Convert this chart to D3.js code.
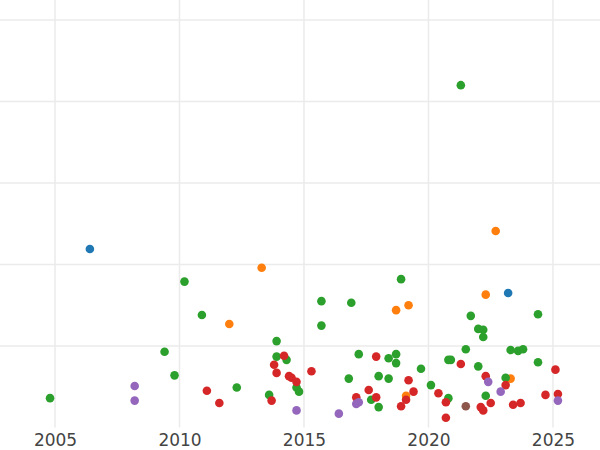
<!DOCTYPE html>
<html><head><meta charset="utf-8">
<script src="https://cdn.jsdelivr.net/npm/d3@7"></script>
<style>body{margin:0;background:#fff}</style>
</head><body>
<svg id="c" width="600" height="450"></svg>
<script>
// [year, value] per group
var blue = [[2006.4,2.19],[2023.2,1.65]];
var orange = [[2013.3,1.96],[2012.0,1.27],[2022.7,2.41],[2022.3,1.63],[2019.2,1.50],[2018.7,1.44],[2019.1,0.39],[2023.3,0.60]];
var green = [[2004.8,0.36],[2010.2,1.79],[2010.9,1.38],[2009.4,0.93],[2009.8,0.64],[2012.3,0.49],[2013.6,0.40],[2013.9,1.06],[2013.9,0.87],[2014.3,0.83],[2014.7,0.49],[2014.8,0.44],[2015.7,1.55],[2015.7,1.25],[2016.9,1.53],[2017.2,0.90],[2016.8,0.60],[2018.0,0.63],[2018.4,0.60],[2018.4,0.85],[2018.7,0.90],[2018.7,0.79],[2018.9,1.82],[2017.7,0.34],[2018.0,0.25],[2019.7,0.72],[2020.1,0.52],[2020.8,0.83],[2020.9,0.83],[2020.8,0.36],[2021.3,4.20],[2021.5,0.96],[2021.7,1.37],[2022.0,1.21],[2022.2,1.20],[2022.2,1.11],[2022.0,0.75],[2022.3,0.39],[2023.1,0.61],[2023.3,0.95],[2023.6,0.94],[2023.8,0.96],[2024.4,1.39],[2024.4,0.80]];
var red = [[2011.1,0.45],[2011.6,0.30],[2013.7,0.33],[2013.8,0.77],[2013.9,0.67],[2014.2,0.88],[2014.4,0.63],[2014.5,0.61],[2014.7,0.56],[2015.3,0.69],[2017.1,0.37],[2017.6,0.46],[2017.9,0.87],[2017.9,0.37],[2018.9,0.26],[2019.1,0.34],[2019.2,0.58],[2019.4,0.44],[2020.4,0.42],[2020.7,0.31],[2020.7,0.12],[2021.3,0.78],[2022.1,0.25],[2022.2,0.21],[2022.3,0.63],[2022.5,0.30],[2023.1,0.52],[2023.4,0.28],[2023.7,0.30],[2024.7,0.40],[2025.1,0.71],[2025.2,0.41]];
var purple = [[2008.2,0.51],[2008.2,0.33],[2014.7,0.21],[2016.4,0.17],[2017.1,0.29],[2017.2,0.31],[2022.4,0.56],[2022.9,0.44],[2025.2,0.33]];
var brown = [[2021.5,0.26]];
var xTicks = [2005, 2010, 2015, 2020, 2025];
var yGrid = [1, 2, 3, 4, 5];

var svg = d3.select("#c");
var x = d3.scaleLinear().domain([2002.79, 2026.89]).range([0, 600]);
var y = d3.scaleLinear().domain([0, 5.245]).range([427.5, 0]);

svg.append("g").selectAll("line").data(yGrid).join("line")
  .attr("x1", 0).attr("x2", 600).attr("y1", y).attr("y2", y)
  .attr("stroke", "#ebebeb").attr("stroke-width", 1.5);
svg.append("g").selectAll("line").data(xTicks).join("line")
  .attr("x1", x).attr("x2", x).attr("y1", 0).attr("y2", 427.5)
  .attr("stroke", "#ebebeb").attr("stroke-width", 1.5);

var xAxis = svg.append("g").attr("transform", "translate(0,427.5)")
  .call(d3.axisBottom(x).tickValues(xTicks).tickFormat(d3.format("d")).tickSize(0).tickPadding(6));
xAxis.select(".domain").remove();
xAxis.selectAll("text").attr("fill", "#444").attr("font-size", 17).attr("font-family", "DejaVu Sans");

var groups = [[blue,"#1f77b4"],[orange,"#ff7f0e"],[green,"#2ca02c"],[red,"#d62728"],[purple,"#9467bd"],[brown,"#8c564b"]];
groups.forEach(function(g) {
  svg.append("g").selectAll("circle").data(g[0]).join("circle")
    .attr("cx", function(d) { return x(d[0]); })
    .attr("cy", function(d) { return y(d[1]); })
    .attr("r", 4.3).attr("fill", g[1]);
});
</script>
</body></html>
